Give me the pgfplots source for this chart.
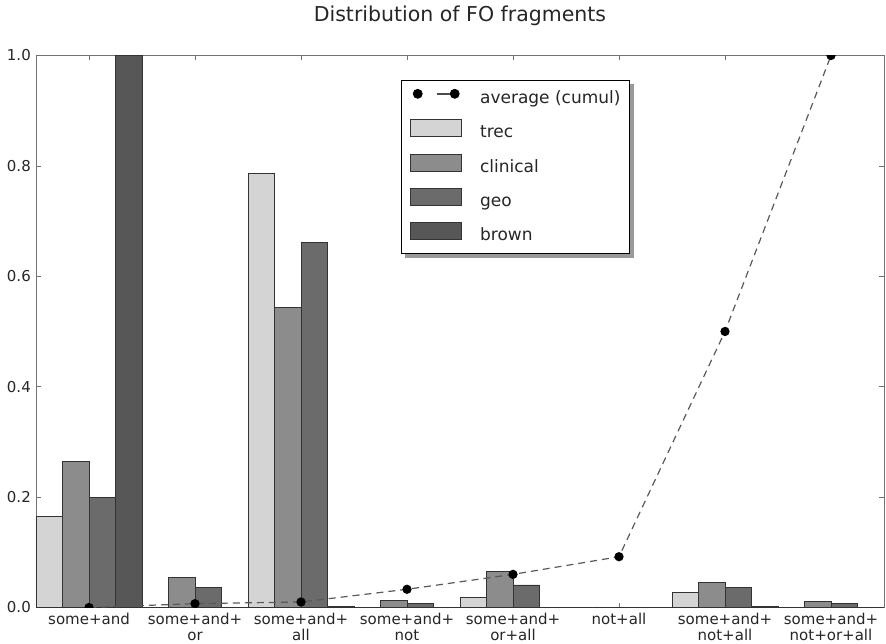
\documentclass[border=0pt]{standalone}
\usepackage{fontspec}
\setmainfont{DejaVu Sans}
\usepackage{pgfplots}
\pgfplotsset{compat=1.18}
\pgfdeclarelayer{background}
\pgfsetlayers{background,main}

\definecolor{trecc}{gray}{0.83}
\definecolor{clinc}{gray}{0.55}
\definecolor{geoc}{gray}{0.42}
\definecolor{brownc}{gray}{0.34}
\definecolor{edgec}{gray}{0.2}

\pgfplotsset{
  barleg/.style={legend image code/.code={\draw[##1] (0pt,-3.5pt) rectangle (51pt,13.5pt);}},
}

\begin{document}
\begin{tikzpicture}
\path[use as bounding box] (-36pt,-35.5pt) rectangle (850pt,607.5pt);
\begin{axis}[
  at={(0pt,0pt)}, anchor=south west,
  width=848pt, height=552pt, scale only axis,
  xmin=0, xmax=8, ymin=0, ymax=1,
  clip marker paths=true,
  xtick={0.5,1.5,2.5,3.5,4.5,5.5,6.5,7.5},
  xticklabels={some+and, some+and+\\or, some+and+\\all, some+and+\\not, some+and+\\or+all, not+all, some+and+\\not+all, some+and+\\not+or+all},
  xticklabel style={align=center, font=\fontsize{15}{16}\selectfont, anchor=north, inner sep=0pt, yshift=-5pt, text=black!85},
  ytick={0,0.2,0.4,0.6,0.8,1},
  /pgf/number format/fixed, /pgf/number format/fixed zerofill, /pgf/number format/precision=1,
  /pgf/number format/assume math mode=true,
  yticklabel style={font=\fontsize{15}{16}\selectfont, inner sep=0pt, xshift=-5pt, text=black!85},
  axis line style={black!55, line width=0.8pt},
  every tick/.style={black!55, line width=0.6pt},
  major tick length=5pt,
  title={Distribution of FO fragments},
  title style={font=\fontsize{20.5}{24}\selectfont, at={(0.5,1)}, anchor=base, yshift=28pt, inner sep=0pt, text=black!85},
  legend style={name=legbox, at={(0.4304,0.9565)}, anchor=north west, draw=black, line width=0.8pt, fill=white,
    font=\fontsize{17}{20}\selectfont, inner xsep=9pt, inner ysep=9pt, row sep=12pt, column sep=18pt,
    nodes={inner sep=0pt, text height=13pt, text depth=4pt, text=black!85}},
  legend cell align=left,
]
\addlegendimage{legend image code/.code={
  \path[draw=none, fill=none] (0pt,4pt) -- (51pt,4pt);
  \fill[black] (7pt,5pt) circle (4.5pt);
  \draw[black!70, line width=1.6pt, solid] (26pt,5pt) -- (44pt,5pt);
  \fill[black] (44pt,5pt) circle (4.5pt);}}
\addlegendentry{average (cumul)}

\addplot[ybar, bar width=0.25, bar shift=0pt, fill=trecc, draw=edgec, line width=0.7pt, barleg] coordinates {
 (0.125,0.165) (1.125,0) (2.125,0.786) (3.125,0) (4.125,0.019) (5.125,0) (6.125,0.027) (7.125,0)};
\addlegendentry{trec}
\addplot[ybar, bar width=0.25, bar shift=0pt, fill=clinc, draw=edgec, line width=0.7pt, barleg] coordinates {
 (0.375,0.265) (1.375,0.054) (2.375,0.544) (3.375,0.013) (4.375,0.065) (5.375,0) (6.375,0.045) (7.375,0.011)};
\addlegendentry{clinical}
\addplot[ybar, bar width=0.25, bar shift=0pt, fill=geoc, draw=edgec, line width=0.7pt, barleg] coordinates {
 (0.625,0.2) (1.625,0.036) (2.625,0.662) (3.625,0.008) (4.625,0.041) (5.625,0) (6.625,0.036) (7.625,0.008)};
\addlegendentry{geo}
\addplot[ybar, bar width=0.25, bar shift=0pt, fill=brownc, draw=edgec, line width=0.7pt, barleg] coordinates {
 (0.875,1.0) (1.875,0) (2.875,0.002) (3.875,0) (4.875,0) (5.875,0) (6.875,0.002) (7.875,0)};
\addlegendentry{brown}

\addplot[forget plot, color=black!65, line width=1.2pt, dash pattern=on 7pt off 5pt,
  mark=*, mark size=4pt, mark options={solid, fill=black, draw=black}] coordinates {
 (0.5,0) (1.5,0.007) (2.5,0.01) (3.5,0.033) (4.5,0.06) (5.5,0.092) (6.5,0.5) (7.5,1.0)};
\end{axis}
\begin{pgfonlayer}{background}
\fill[black!40] ([xshift=4pt,yshift=-4pt]legbox.south west) rectangle ([xshift=4pt,yshift=-4pt]legbox.north east);
\end{pgfonlayer}
\end{tikzpicture}
\end{document}
